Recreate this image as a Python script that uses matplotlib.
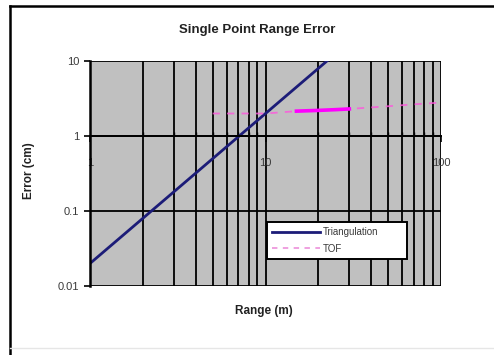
import matplotlib
matplotlib.use("Agg")
import matplotlib.pyplot as plt
from matplotlib.ticker import LogLocator, NullFormatter, FixedLocator, FixedFormatter
from matplotlib.lines import Line2D

plt.rcParams['font.family'] = ['Liberation Sans', 'DejaVu Sans']

# data
rangeTri = [1, 2, 3, 5, 7, 10, 15, 20, 30]
errorTri = [0.02, 0.08, 0.18, 0.5, 0.98, 2.0, 4.5, 8.0, 18.0]

rangeTof = [5, 7, 10, 15, 20, 25, 30, 50, 70, 100]
errorTof = [2.0, 2.0, 2.0, 2.15, 2.2, 2.25, 2.3, 2.5, 2.65, 2.8]

xTicks = [1, 10, 100]
xLabels = ["1", "10", "100"]
yTicks = [0.01, 0.1, 1, 10]
yLabels = ["0.01", "0.1", "1", "10"]

fig = plt.figure(figsize=(4.94, 3.55), dpi=100)
ax = fig.add_axes([0.182, 0.194, 0.711, 0.634])
ax.set_facecolor("#c0c0c0")

ax.set_xscale("log")
ax.set_yscale("log")
ax.set_xlim(1, 100)
ax.set_ylim(0.01, 10)

#vertical grid on every minor and major x position
ax.xaxis.set_major_locator(FixedLocator(xTicks))
ax.xaxis.set_major_formatter(FixedFormatter(xLabels))
ax.xaxis.set_minor_locator(LogLocator(base=10, subs=range(2, 10)))
ax.xaxis.set_minor_formatter(NullFormatter())
ax.grid(True, which="both", axis="x", color="black", linewidth=1.3)

ax.yaxis.set_major_locator(FixedLocator(yTicks))
ax.yaxis.set_major_formatter(FixedFormatter(yLabels))
ax.yaxis.set_minor_locator(FixedLocator([]))
ax.grid(True, which="major", axis="y", color="black", linewidth=1.3)

#x axis crosses at y = 1 like the excel chart
ax.spines['bottom'].set_position(('data', 1))
ax.spines['bottom'].set_linewidth(1.4)
ax.spines['left'].set_linewidth(1.8)
ax.spines['top'].set_visible(False)
ax.spines['right'].set_visible(False)
ax.tick_params(axis="x", which="major", direction="out", length=4, width=1.2,
               labelsize=8, labelcolor="#3a3a3a", pad=12)
ax.tick_params(axis="x", which="minor", direction="in", length=3, width=1)
ax.tick_params(axis="y", which="major", direction="out", length=4, width=1.2,
               labelsize=8, labelcolor="#3a3a3a")

ax.plot(rangeTri, errorTri, color="#1c1c78", linewidth=2, label="Triangulation")
ax.plot(rangeTof, errorTof, color="#ff55dd", linewidth=1.3, linestyle=(0, (4, 4)),
        alpha=0.8)
#middle part of TOF looks solid in the picture
ax.plot(rangeTof[3:7], errorTof[3:7], color="#ff00ff", linewidth=2.6)

handles = [Line2D([], [], color="#1c1c78", linewidth=2),
           Line2D([], [], color="#ee99dd", linewidth=1.3, linestyle=(0, (3, 3)))]
leg = ax.legend(handles, ["Triangulation", "TOF"], loc="lower left",
                bbox_to_anchor=(0.49, 0.10, 0.427, 0.20), mode="expand",
                fontsize=7, fancybox=False, framealpha=1, edgecolor="black",
                handlelength=5, handletextpad=0.3, borderpad=0.5, labelspacing=0.7)
leg.get_frame().set_linewidth(1.4)
for t in leg.get_texts():
    t.set_color("#3a3a3a")

fig.text(0.52, 0.915, "Single Point Range Error", ha="center", va="center",
         fontsize=9.5, fontweight="bold", color="#222222")
fig.text(0.535, 0.125, "Range (m)", ha="center", va="center",
         fontsize=8.5, fontweight="bold", color="#222222")
fig.text(0.058, 0.52, "Error (cm)", ha="center", va="center", rotation=90,
         fontsize=8.5, fontweight="bold", color="#222222")

#chart border, cut off on right and bottom
fig.add_artist(Line2D([10 / 494, 10 / 494], [0, 1 - 6 / 355], color="black",
                      linewidth=1.8, transform=fig.transFigure))
fig.add_artist(Line2D([10 / 494, 1], [1 - 6 / 355, 1 - 6 / 355], color="black",
                      linewidth=1.8, transform=fig.transFigure))
fig.add_artist(Line2D([10 / 494, 1], [7 / 355, 7 / 355], color="#e6e6e6",
                      linewidth=1, transform=fig.transFigure))

fig.savefig("out.png", dpi=100)
